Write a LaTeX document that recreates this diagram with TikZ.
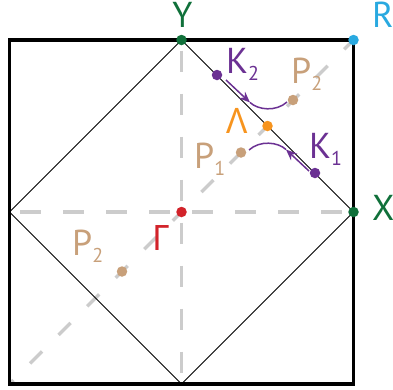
\documentclass[tikz,border=0pt]{standalone}
\usepackage{fontspec}
\setmainfont{PT Sans}
\newfontfamily\greekfont{Noto Sans}
\usetikzlibrary{arrows.meta}
\definecolor{cgreen}{RGB}{16,112,58}
\definecolor{ccyan}{RGB}{41,169,224}
\definecolor{cpurple}{RGB}{107,49,147}
\definecolor{corange}{RGB}{247,148,30}
\definecolor{ctan}{RGB}{200,160,122}
\definecolor{cred}{RGB}{210,35,42}
\definecolor{cgray}{RGB}{204,204,204}
\newcommand{\subsc}[1]{\raisebox{-7pt}{\fontsize{20}{20}\selectfont #1}}
\tikzset{
  dot/.style={circle, inner sep=0pt, minimum size=10.5pt, draw=none},
  lbl/.style={inner sep=0pt, anchor=base west, font=\fontsize{36}{36}\selectfont},
  glbl/.style={inner sep=0pt, anchor=base west, font=\greekfont\fontsize{35}{35}\selectfont},
  axisdash/.style={draw=cgray, line width=3.5pt, dash pattern=on 21pt off 22pt, dash phase=32.5pt},
  diagdash/.style={draw=cgray, line width=3.5pt, dash pattern=on 17pt off 23.4pt, dash phase=11.4pt},
  frame/.style={draw=black, line width=3.5pt},
  thinline/.style={draw=black, line width=0.8pt},
  motion/.style={draw=cpurple, line width=1.5pt},
  tipped/.style={motion, -{Stealth[length=11pt,width=9pt]}}
}
\begin{document}
\begin{tikzpicture}[x=1pt,y=-1pt]
\useasboundingbox (0,0) rectangle (393,389);
% corners and points
\coordinate (tl) at (9.5,40);
\coordinate (tr) at (353.5,40);
\coordinate (br) at (353.5,384);
\coordinate (bl) at (9.5,384);
\coordinate (ytop) at (181.5,40);
\coordinate (xright) at (353.5,212);
\coordinate (ybot) at (181.5,384);
\coordinate (xleft) at (9.5,212);
\coordinate (gam) at (181.5,212);
% dashed axes
\draw[axisdash] (ytop) -- (ybot);
\draw[axisdash] (xleft) -- (xright);
\draw[diagdash] (bl) -- (tr);
% diamond
\draw[thinline] (ytop) -- (xright) -- (ybot) -- (xleft) -- cycle;
% frame
\draw[frame] (tl) -- (tr) -- (br) -- (bl) -- cycle;
% arrows
\coordinate (a1s) at (226,80);
\coordinate (a1t) at (250,102.5);
\coordinate (a1e) at (287,102);
\draw[tipped] (a1s) -- (a1t);
\draw[motion] (a1t) .. controls (258,110) and (276,112) .. (a1e);
\coordinate (a2s) at (309,171);
\coordinate (a2t) at (286,149.5);
\coordinate (a2e) at (249,150);
\draw[tipped] (a2s) -- (a2t);
\draw[motion] (a2t) .. controls (278,142) and (260,140) .. (a2e);
% dots
\node[dot, fill=cgreen] (Y) at (ytop) {};
\node[dot, fill=cgreen] (X) at (xright) {};
\node[dot, fill=ccyan] (R) at (tr) {};
\node[dot, fill=cred] (G) at (gam) {};
\node[dot, fill=cpurple] (K2) at (217,75) {};
\node[dot, fill=cpurple] (K1) at (315,173) {};
\node[dot, fill=corange] (L) at (267.5,126) {};
\node[dot, fill=ctan] (P2) at (293,100) {};
\node[dot, fill=ctan] (P1) at (241,152.5) {};
\node[dot, fill=ctan] (P2b) at (122,271.5) {};
% labels
\node[lbl, anchor=base, text=cgreen] (tY) at (182.5,27) {Y};
\node[lbl, text=ccyan] (tR) at (372,27) {R};
\node[lbl, text=cgreen] (tX) at (372,220) {X};
\node[glbl, text=cred] (tG) at (152,250) {Γ};
\node[lbl, text=ctan] (tP2b) at (72,255) {P\subsc{2}};
\node[lbl, text=ctan] (tP1) at (194,168) {P\subsc{1}};
\node[glbl, text=corange] (tL) at (226,133) {Λ};
\node[lbl, text=cpurple] (tK2) at (226,73) {K\subsc{2}};
\node[lbl, text=ctan] (tP2) at (291,83) {P\subsc{2}};
\node[lbl, text=cpurple] (tK1) at (309,158) {K\subsc{1}};
\end{tikzpicture}
\end{document}
